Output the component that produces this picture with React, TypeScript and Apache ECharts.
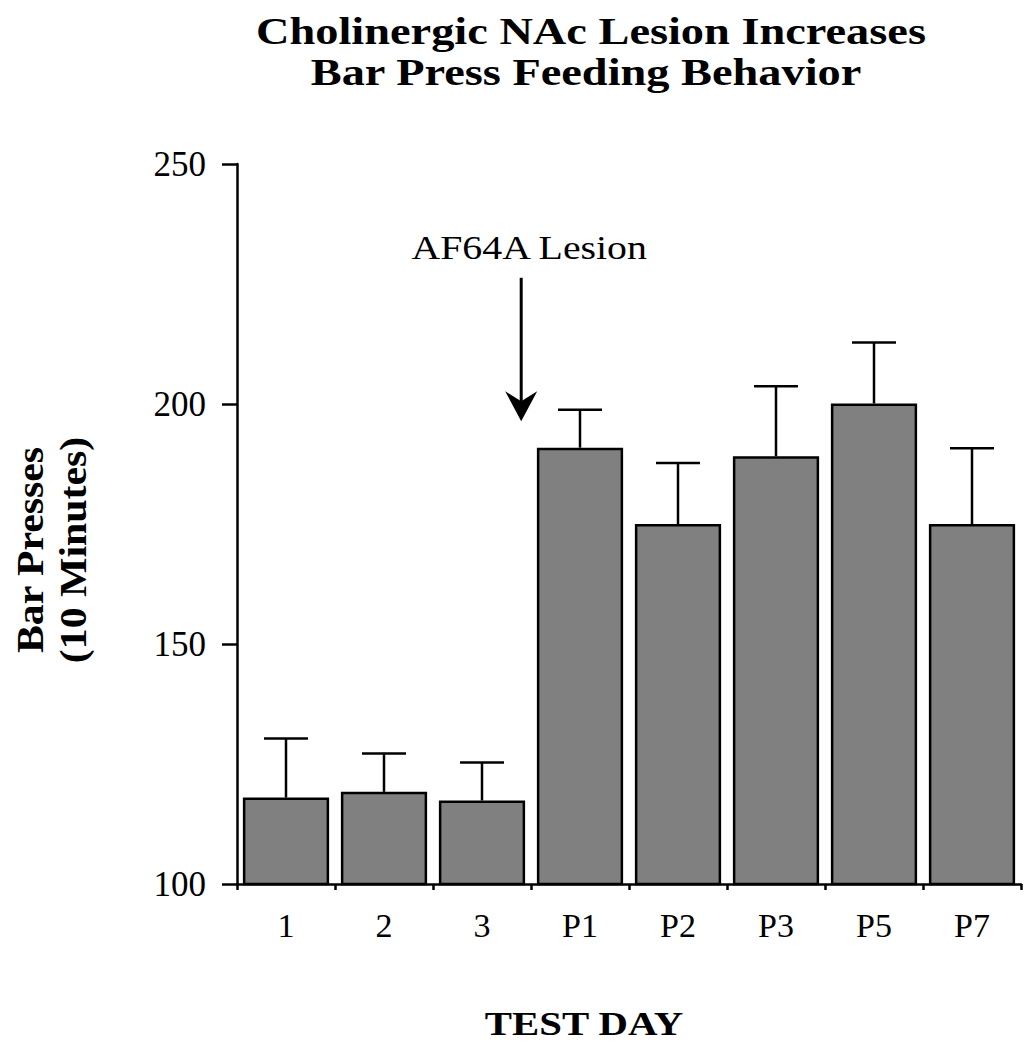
import React, { useEffect, useRef } from "react";
import * as echarts from "echarts";

const categories = ["1", "2", "3", "P1", "P2", "P3", "P5", "P7"];
const means = [118.0, 119.2, 117.4, 190.9, 175.0, 189.1, 200.1, 175.0];
const upperErr = [130.3, 127.2, 125.3, 198.8, 187.7, 203.7, 212.8, 190.8];
const yTicks = [100, 150, 200, 250];
const arrowTop = 226.3;
const arrowTip = 196.4;
const titleLines = ["Cholinergic NAc Lesion Increases", "Bar Press Feeding Behavior"];
const yAxisName = "Bar Presses\n(10 Minutes)";
const xAxisName = "TEST DAY";
const annotation = "AF64A Lesion";

const SERIF = "'Liberation Serif', 'DejaVu Serif', serif";

export default function App() {
  const ref = useRef<HTMLDivElement>(null);
  useEffect(() => {
    document.body.style.margin = "0";
    const chart = echarts.init(ref.current!, null, { renderer: "svg" });
    const option: any = {
      animation: false,
      backgroundColor: "#ffffff",
      grid: { left: 237, right: 10, top: 164, bottom: 166 },
      xAxis: {
        type: "category",
        data: categories,
        axisLine: { lineStyle: { color: "#000", width: 2.5 } },
        axisTick: { show: true, length: 6, lineStyle: { color: "#000", width: 2.5 } },
        axisLabel: { margin: 24, fontFamily: SERIF, fontSize: 34, color: "#000" },
      },
      yAxis: {
        type: "value",
        min: yTicks[0],
        max: yTicks[yTicks.length - 1],
        interval: 50,
        splitLine: { show: false },
        axisLine: { show: true, lineStyle: { color: "#000", width: 2.5 } },
        axisTick: { show: true, length: 15, lineStyle: { color: "#000", width: 2.5 } },
        axisLabel: { margin: 31, fontFamily: SERIF, fontSize: 35, color: "#000" },
      },
      series: [
        {
          type: "bar",
          data: means,
          barCategoryGap: "12%",
          itemStyle: { color: "#808080", borderColor: "#000", borderWidth: 2.5 },
          z: 2,
        },
        {
          type: "custom",
          data: categories.map((_, i) => [i, means[i], upperErr[i]]),
          z: 1,
          renderItem: (params: any, api: any) => {
            const x = api.value(0);
            const base = api.coord([x, api.value(1)]);
            const top = api.coord([x, api.value(2)]);
            const half = 22;
            return {
              type: "group",
              children: [
                {
                  type: "line",
                  shape: { x1: base[0], y1: base[1], x2: top[0], y2: top[1] },
                  style: { stroke: "#000", lineWidth: 2.5 },
                },
                {
                  type: "line",
                  shape: { x1: top[0] - half, y1: top[1], x2: top[0] + half, y2: top[1] },
                  style: { stroke: "#000", lineWidth: 2.5 },
                },
              ],
            };
          },
        },
      ],
    };
    chart.setOption(option);

    const p2 = chart.convertToPixel({ xAxisIndex: 0 }, 2) as number;
    const p3 = chart.convertToPixel({ xAxisIndex: 0 }, 3) as number;
    const ax = p2 + 0.4 * (p3 - p2);
    const yTop = chart.convertToPixel({ yAxisIndex: 0 }, arrowTop) as number;
    const yTip = chart.convertToPixel({ yAxisIndex: 0 }, arrowTip) as number;

    chart.setOption({
      graphic: [
        {
          type: "text",
          x: 591,
          y: 31,
          scaleX: 1.22,
          style: {
            text: titleLines[0],
            align: "center",
            verticalAlign: "middle",
            font: `bold 38px ${SERIF}`,
            fill: "#000",
          },
        },
        {
          type: "text",
          x: 586,
          y: 72,
          scaleX: 1.22,
          style: {
            text: titleLines[1],
            align: "center",
            verticalAlign: "middle",
            font: `bold 38px ${SERIF}`,
            fill: "#000",
          },
        },
        {
          type: "line",
          shape: { x1: ax, y1: yTop, x2: ax, y2: yTip - 12 },
          style: { stroke: "#000", lineWidth: 3 },
        },
        {
          type: "polygon",
          shape: {
            points: [
              [ax, yTip],
              [ax - 16, yTip - 30],
              [ax, yTip - 20],
              [ax + 16, yTip - 30],
            ],
          },
          style: { fill: "#000" },
        },
        {
          type: "text",
          x: ax + 8,
          y: yTop - 30,
          scaleX: 1.17,
          style: {
            text: annotation,
            align: "center",
            verticalAlign: "middle",
            font: `34px ${SERIF}`,
            fill: "#000",
          },
        },
        {
          type: "text",
          x: 52,
          y: 550,
          rotation: Math.PI / 2,
          scaleX: 1.1,
          style: {
            text: yAxisName,
            align: "center",
            verticalAlign: "middle",
            font: `bold 38px ${SERIF}`,
            lineHeight: 43,
            fill: "#000",
          },
        },
        {
          type: "text",
          x: 584,
          y: 1024,
          scaleX: 1.2,
          style: {
            text: xAxisName,
            align: "center",
            verticalAlign: "middle",
            font: `bold 34px ${SERIF}`,
            fill: "#000",
          },
        },
      ],
    });
    return () => chart.dispose();
  }, []);
  return (
    <div
      ref={ref}
      style={{ position: "fixed", left: 0, top: 0, width: 1031, height: 1050 }}
    />
  );
}
